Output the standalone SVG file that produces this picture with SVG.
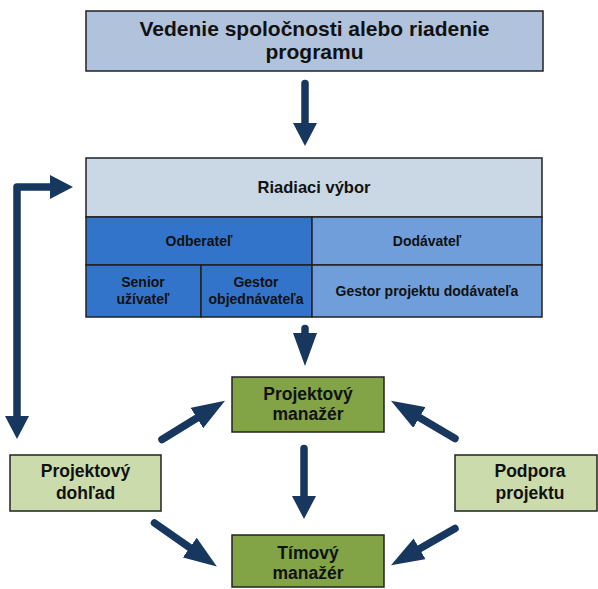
<svg xmlns="http://www.w3.org/2000/svg" width="598" height="589" viewBox="0 0 598 589">
<style>
  text { font-family: "Liberation Sans", Arial, sans-serif; font-weight: bold; fill: #111; text-anchor: middle; }
  .box { stroke: #222; stroke-width: 1.5; }
  .arr { fill: none; stroke: #17375e; stroke-width: 7.5; stroke-linecap: round; stroke-linejoin: round; }
  .t21 { font-size: 21px; }
  .t17 { font-size: 17.5px; }
  .t16 { font-size: 16.5px; }
  .t14 { font-size: 14px; }
</style>
<defs>
  <marker id="hs" markerUnits="userSpaceOnUse" markerWidth="23" markerHeight="24" viewBox="0 0 23 24" refX="0" refY="12" orient="auto-start-reverse">
    <path d="M0,0 L23,12 L0,24 z" fill="#17375e"/>
  </marker>
  <marker id="hl" markerUnits="userSpaceOnUse" markerWidth="33" markerHeight="24" viewBox="0 0 33 24" refX="0" refY="12" orient="auto">
    <path d="M0,0 L33,12 L0,24 z" fill="#17375e"/>
  </marker>
</defs>

<g id="vedenie">
  <rect class="box" x="86" y="11" width="457" height="60" fill="#b1c3dc"/>
  <text class="t21" x="314.5" y="36">Vedenie spoločnosti alebo riadenie</text>
  <text class="t21" x="314.5" y="59">programu</text>
</g>

<g id="riadiaci-vybor">
  <rect class="box" x="86" y="158" width="456" height="59" fill="#cad8e6"/>
  <text class="t16" x="314" y="193">Riadiaci výbor</text>
</g>
<g id="odberatel">
  <rect class="box" x="86" y="217" width="226" height="48" fill="#3374cb"/>
  <text class="t14" x="199" y="246">Odberateľ</text>
</g>
<g id="dodavatel">
  <rect class="box" x="312" y="217" width="230" height="48" fill="#6f9edb"/>
  <text class="t14" x="427" y="246">Dodávateľ</text>
</g>
<g id="senior-uzivatel">
  <rect class="box" x="86" y="265" width="115" height="52" fill="#3374cb"/>
  <text class="t14" x="143" y="287">Senior</text>
  <text class="t14" x="143" y="304">užívateľ</text>
</g>
<g id="gestor-objednavatela">
  <rect class="box" x="201" y="265" width="111" height="52" fill="#3374cb"/>
  <text class="t14" x="256" y="287">Gestor</text>
  <text class="t14" x="256" y="304">objednávateľa</text>
</g>
<g id="gestor-projektu-dodavatela">
  <rect class="box" x="312" y="265" width="230" height="52" fill="#6f9edb"/>
  <text class="t14" x="427" y="296">Gestor projektu dodávateľa</text>
</g>

<g id="projektovy-manazer">
  <rect class="box" x="232" y="377" width="152" height="55" fill="#82a346"/>
  <text class="t17" x="308" y="399.5">Projektový</text>
  <text class="t17" x="308" y="419.5">manažér</text>
</g>
<g id="timovy-manazer">
  <rect class="box" x="232" y="535" width="152" height="52" fill="#82a346"/>
  <text class="t17" x="308" y="558.5">Tímový</text>
  <text class="t17" x="308" y="578.5">manažér</text>
</g>
<g id="projektovy-dohlad">
  <rect class="box" x="10" y="455" width="151" height="56" fill="#ccdbab"/>
  <text class="t17" x="85.5" y="477">Projektový</text>
  <text class="t17" x="85.5" y="498.5">dohľad</text>
</g>
<g id="podpora-projektu">
  <rect class="box" x="455" y="455" width="142" height="56" fill="#ccdbab"/>
  <text class="t17" x="530" y="477">Podpora</text>
  <text class="t17" x="530" y="498.5">projektu</text>
</g>

<g id="connectors">
  <path class="arr" d="M305,83.5 L305,123" marker-end="url(#hs)"/>
  <path class="arr" d="M305,328.5 L305,333" marker-end="url(#hl)"/>
  <path class="arr" d="M304,448.5 L304,496" marker-end="url(#hs)"/>
  <path class="arr" d="M50,187 L17,187 L17,416" marker-start="url(#hs)" marker-end="url(#hs)"/>
  <path class="arr" d="M162,439.5 L196.9,418" marker-end="url(#hl)"/>
  <path class="arr" d="M154.5,523 L189.8,547.6" marker-end="url(#hl)"/>
  <path class="arr" d="M455,438.5 L419.4,417.5" marker-end="url(#hl)"/>
  <path class="arr" d="M455,528.5 L419.6,548.8" marker-end="url(#hl)"/>
</g>
</svg>
